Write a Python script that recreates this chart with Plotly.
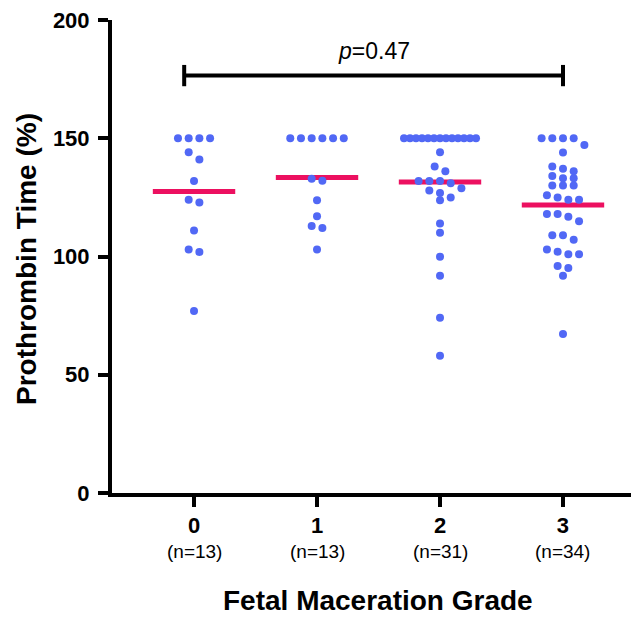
import numpy as np
import plotly.graph_objects as go

# ---------------- data ----------------
categories = ["0", "1", "2", "3"]
n_labels = ["(n=13)", "(n=13)", "(n=31)", "(n=34)"]
grade0 = [150, 150, 150, 150, 144.1, 141.0, 131.9, 124.0, 122.8, 111.0, 103.0, 101.9, 77.0]
grade1 = [150, 150, 150, 150, 150, 150, 132.9, 132.0, 123.8, 117.0, 112.9, 112.0, 103.0]
grade2 = [150] * 13 + [144.1, 138.1, 136.0, 131.9, 131.9, 131.9, 131.0, 128.9, 127.9,
                       126.9, 125.0, 123.8, 114.0, 110.0, 99.9, 91.9, 74.1, 58.0]
grade3 = [150] * 4 + [147.1, 144.0, 138.1, 137.1, 136.0, 134.0, 133.1, 133.1, 130.0, 130.0,
                      130.0, 125.9, 125.0, 124.0, 124.0, 118.0, 118.0, 116.8, 114.9, 109.0,
                      109.0, 107.1, 103.0, 102.0, 100.9, 100.9, 96.0, 95.1, 91.9, 67.2]
groups = [grade0, grade1, grade2, grade3]
p_text = "<i>p</i>=0.47"
y_ticks = [0, 50, 100, 150, 200]

# ---------------- layout geometry ----------------
# page body has an 8px margin, so the figure is shrunk by that amount
OFF = 8
W, H = 639 - OFF, 617 - OFF
ML, MR, MT = 112 - OFF, 0, 16 - OFF
MB = H - (493 - OFF)
XR = [-0.667, 3.618]
YR = [0, 200]
plot_w = W - ML - MR
plot_h = H - MT - MB
px_x = plot_w / (XR[1] - XR[0])
px_y = plot_h / (YR[1] - YR[0])

DOT_COLOR = "#5168F5"
MEAN_COLOR = "#EC1060"
FONT = "Liberation Sans, Arial, sans-serif"


def swarm_offsets(vals, bin_px=8.0, spacing_px=10.7, max_row_px=72.0):
    """Simple row-binned beeswarm: returns x offsets (data units) in input order."""
    order = sorted(range(len(vals)), key=lambda i: -vals[i])
    offs = [0.0] * len(vals)
    binh = bin_px / px_y
    bins, cur, start = [], [], None
    for i in order:
        if start is None or vals[i] < start - binh:
            if cur:
                bins.append(cur)
            cur, start = [i], vals[i]
        else:
            cur.append(i)
    if cur:
        bins.append(cur)
    for b in bins:
        n = len(b)
        s = spacing_px if n < 2 else min(spacing_px, max_row_px / (n - 1))
        for k, i in enumerate(b):
            offs[i] = (k - (n - 1) / 2) * s / px_x
    return offs


fig = go.Figure()

# mean lines
for gi, vals in enumerate(groups):
    m = float(np.mean(vals))
    fig.add_trace(go.Scatter(x=[gi - 0.335, gi + 0.335], y=[m, m], mode="lines",
                             line=dict(color=MEAN_COLOR, width=5), hoverinfo="skip",
                             showlegend=False))

# dots
for gi, vals in enumerate(groups):
    offs = swarm_offsets(vals)
    fig.add_trace(go.Scatter(x=[gi + o for o in offs], y=vals, mode="markers",
                             marker=dict(color=DOT_COLOR, size=8, line=dict(width=0)),
                             showlegend=False))

# significance bracket
by = 176.5
cap = 4.5
xl, xr = -0.08, 3.0
fig.add_shape(type="line", x0=xl, x1=xr, y0=by, y1=by, line=dict(color="black", width=4))
fig.add_shape(type="line", x0=xl, x1=xl, y0=by - cap, y1=by + cap, line=dict(color="black", width=4))
fig.add_shape(type="line", x0=xr, x1=xr, y0=by - cap, y1=by + cap, line=dict(color="black", width=4))
fig.add_annotation(x=(xl + xr) / 2, y=187, text=p_text, showarrow=False,
                   font=dict(family=FONT, size=23, color="black"), xanchor="center", yanchor="middle")

# n labels under categories
for gi, nl in enumerate(n_labels):
    fig.add_annotation(x=gi, xref="x", y=(493 - 552) / plot_h, yref="paper", text=nl,
                       showarrow=False, font=dict(family=FONT, size=19, color="black"),
                       xanchor="center", yanchor="middle")

# axis titles
fig.add_annotation(x=(378 - 112) / plot_w, xref="paper", y=(493 - 601) / plot_h, yref="paper",
                   text="<b>Fetal Maceration Grade</b>", showarrow=False,
                   font=dict(family=FONT, size=28, color="black"), xanchor="center", yanchor="middle")
fig.add_annotation(x=(27 - 112) / plot_w, xref="paper", y=(493 - 257) / plot_h, yref="paper",
                   text="<b>Prothrombin Time (%)</b>", showarrow=False, textangle=-90,
                   font=dict(family=FONT, size=28, color="black"), xanchor="center", yanchor="middle")

fig.update_layout(
    width=W, height=H,
    margin=dict(l=ML, r=MR, t=MT, b=MB, pad=0),
    paper_bgcolor="white", plot_bgcolor="white",
    showlegend=False,
    xaxis=dict(range=XR, tickmode="array", tickvals=list(range(len(categories))),
               ticktext=categories, showgrid=False, zeroline=False,
               showline=True, linecolor="black", linewidth=4,
               ticks="outside", ticklen=10, tickwidth=4, tickcolor="black",
               ticklabeloverflow="allow",
               tickfont=dict(family=FONT, size=22, color="black", weight="bold")),
    yaxis=dict(range=YR, tickmode="array", tickvals=y_ticks, showgrid=False, zeroline=False,
               showline=True, linecolor="black", linewidth=4,
               ticks="outside", ticklen=10, tickwidth=4, tickcolor="black",
               ticklabelstandoff=4, ticklabeloverflow="allow",
               tickfont=dict(family=FONT, size=22, color="black", weight="bold")),
)

fig.write_html("out.html")
